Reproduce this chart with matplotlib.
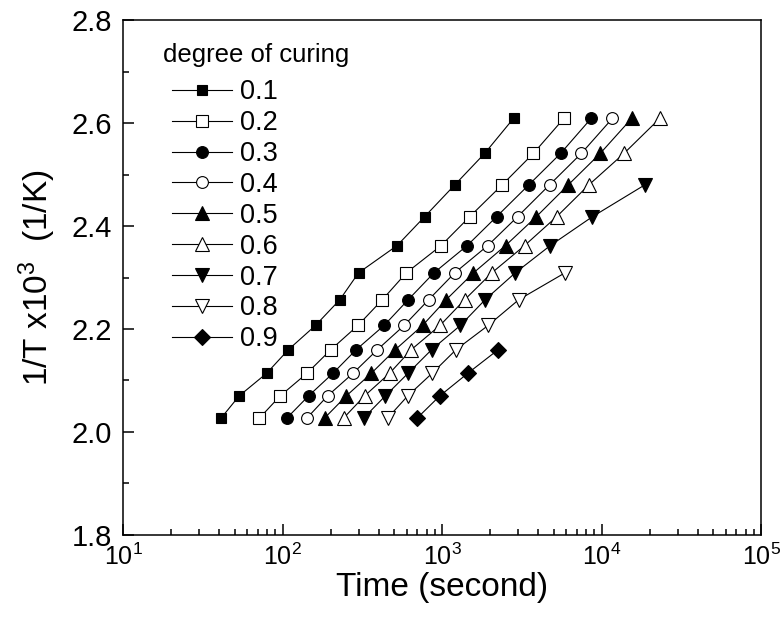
import matplotlib
matplotlib.use("Agg")
import matplotlib.pyplot as plt
from matplotlib.ticker import MultipleLocator, FormatStrFormatter, LogLocator

plt.rcParams["font.family"] = ["Liberation Sans", "DejaVu Sans"]
plt.rcParams["mathtext.default"] = "regular"

# 1/T x10^3 (1/K) levels shared by all series (bottom to top)
inv_T = [2.027, 2.070, 2.114, 2.160, 2.207, 2.257, 2.309, 2.362, 2.418, 2.480, 2.541, 2.609]

# time (s) for each degree of curing, one value per temperature level
t_01 = [41.1, 53.3, 79.3, 108.7, 160.7, 228.4, 298.9, 521.6, 776, 1201, 1848, 2803]
t_02 = [71.5, 96.4, 141.9, 200.7, 296.7, 422, 596, 985, 1488, 2380, 3734, 5803]
t_03 = [106.2, 145.2, 206.6, 289.4, 432.7, 613, 888, 1435, 2193, 3498, 5534, 8602]
t_04 = [141.9, 191.1, 276, 393, 578, 824, 1200, 1933, 2970, 4719, 7464, 11690]
t_05 = [183, 250.5, 359.5, 509, 754, 1061, 1572, 2497, 3893, 6184, 9808, 15450]
t_06 = [240.9, 326, 468, 641, 970, 1386, 2048, 3287, 5222, 8330, 13820, 23170]
t_07 = [321.7, 440, 611, 860, 1302, 1862, 2873, 4767, 8752, 18700]
t_08 = [455, 608, 865, 1224, 1944, 3027, 5888]
t_09 = [697, 966, 1448, 2250]

labels = ["0.1", "0.2", "0.3", "0.4", "0.5", "0.6", "0.7", "0.8", "0.9"]
times = [t_01, t_02, t_03, t_04, t_05, t_06, t_07, t_08, t_09]
markers = ["s", "s", "o", "o", "^", "^", "v", "v", "D"]
filled = [True, False, True, False, True, False, True, False, True]
msizes = [7, 8, 8.5, 8.5, 9.5, 9.5, 9.5, 9.5, 8]

fig = plt.figure(figsize=(7.8, 6.26), dpi=100)
ax = fig.add_axes([0.158, 0.1454, 0.8177, 0.8226])

for t, lab, m, f, ms in zip(times, labels, markers, filled, msizes):
    ax.plot(t, inv_T[:len(t)], color="black", lw=0.8, marker=m, ms=ms,
            mfc="black" if f else "white", mec="black", mew=0.8, label=lab)

ax.set_xscale("log")
ax.set_xlim(10, 1e5)
ax.set_ylim(1.8, 2.8)
ax.yaxis.set_major_locator(MultipleLocator(0.2))
ax.yaxis.set_minor_locator(MultipleLocator(0.1))
ax.yaxis.set_major_formatter(FormatStrFormatter("%.1f"))
ax.xaxis.set_minor_locator(LogLocator(base=10, subs=range(2, 10)))

ax.tick_params(which="both", direction="in", top=False, right=False, width=1.1)
ax.tick_params(which="major", length=8, pad=8)
ax.tick_params(which="minor", length=4.5)
ax.tick_params(axis="y", labelsize=21)
ax.tick_params(axis="x", labelsize=18, pad=6)
for s in ax.spines.values():
    s.set_linewidth(1.1)

ax.set_xlabel("Time (second)", fontsize=24, labelpad=2)
ax.set_ylabel("1/T x10$^3$  (1/K)", fontsize=24, labelpad=10)

ax.text(0.063, 0.918, "degree of curing", transform=ax.transAxes, fontsize=18.5)
ax.legend(loc="upper left", bbox_to_anchor=(0.06, 0.906), frameon=False, fontsize=19.5,
          handlelength=2.2, handletextpad=0.3, labelspacing=0.18, borderaxespad=0)

fig.savefig("out.png", dpi=100)
